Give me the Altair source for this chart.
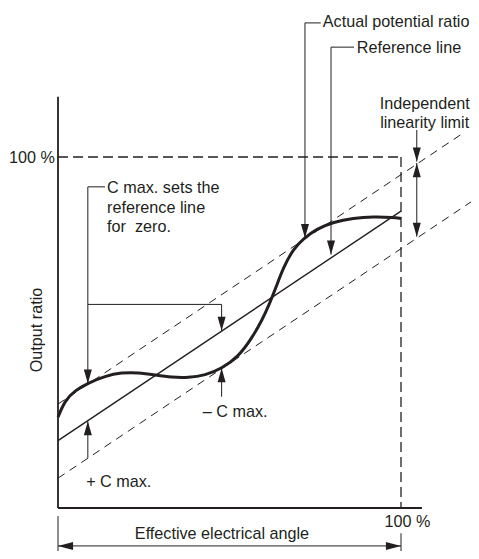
import altair as alt
import pandas as pd

INK = "#231f20"
FONT = "Liberation Sans, Arial, sans-serif"
FS = 16.2

# ---------------- data (percent units) ----------------
# actual potential ratio curve
curve_x = [0, 2.0, 4.96, 8.83, 13.7, 18.6, 23.4, 28.3, 33.1, 38.0, 42.9, 47.7, 52.6,
           56.5, 59.4, 61.8, 63.6, 65.7, 68.6, 71.5, 75.4, 80.3, 86.1, 91.9, 97.8, 100]
curve_y = [25.9, 30.6, 33.5, 35.6, 37.6, 38.6, 38.6, 37.9, 37.2, 37.1, 37.8, 39.7, 43.1,
           48.4, 53.3, 58.5, 63.0, 68.5, 73.8, 76.7, 79.5, 81.5, 82.6, 83.0, 82.8, 82.5]

# reference line
ref_x = [0];   ref_x2 = [100]
ref_y = [19.2]; ref_y2 = [84.6]

# independent linearity limit lines (dashed)
lim_x = [0, 0];       lim_x2 = [117.8, 123.0]
lim_y = [29.6, 8.5];  lim_y2 = [106.6, 88.9]

# 100 % box (dashed)
box_x = [0, 100];   box_x2 = [100, 100]
box_y = [100, 100]; box_y2 = [100, 0]

# axes
axis_x = [0, 0];  axis_x2 = [0, 106.1]
axis_y = [0, 0];  axis_y2 = [117.2, 0]

# leader lines
lead_x  = [72.0, 72.0, 79.6, 79.6, 104.6, 104.6, 8.7, 8.7, 8.7, 47.7, 47.7, 8.7, 0, 100, 0]
lead_x2 = [76.6, 72.0, 86.3, 79.6, 104.6, 104.6, 13.7, 8.7, 47.7, 47.7, 47.7, 8.7, 0, 100, 100]
lead_y  = [138.2, 138.2, 131.3, 131.3, 107.7, 98.3, 91.5, 91.5, 58.0, 58.0, 31.7, 14.2, -2.3, -7.2, -10.8]
lead_y2 = [138.2, 76.9, 131.3, 72.2, 98.7, 77.3, 91.5, 35.5, 58.0, 50.5, 39.8, 24.7, -15, -15, -10.8]

# arrow heads (tip position, direction)
arr_x = [72.0, 79.6, 104.6, 104.6, 104.6, 8.7, 47.7, 47.7, 8.7, 0, 100]
arr_y = [76.9, 72.2, 98.7, 98.2, 77.3, 35.5, 50.5, 39.8, 24.7, -10.8, -10.8]
arr_d = ["down", "down", "down", "up", "down", "down", "down", "up", "up", "left", "right"]

# labels
left_t = ["Actual potential ratio", "Reference line", "C max. sets the", "reference line",
          "for\u00a0 zero.", "– C max.", "+ C max."]
left_x = [77.2, 87.1, 14.3, 14.3, 14.3, 42.2, 8.2]
left_y = [137.1, 129.5, 89.7, 84.0, 78.5, 26.0, 5.9]

center_t = ["Independent", "linearity limit", "Effective electrical angle", "100 %"]
center_x = [106.9, 106.9, 47.8, 101.9]
center_y = [113.6, 108.2, -8.8, -5.3]

right_t = ["100 %"]; right_x = [-0.9]; right_y = [98.4]

rot_t = ["Output ratio"]; rot_x = [-4.75]; rot_y = [50.7]

# ---------------- scales ----------------
W, H = 463, 543
PXX, PXY = 3.43, 3.51
X0, Y0 = 50, 500
xs = alt.Scale(domain=[-X0 / PXX, (W - X0) / PXX], nice=False, zero=False)
ys = alt.Scale(domain=[(Y0 - H) / PXY, Y0 / PXY], nice=False, zero=False)


def seg(x, x2, y, y2, width, dash=None):
    df = pd.DataFrame({"x": x, "x2": x2, "y": y, "y2": y2})
    mk = dict(color=INK, strokeWidth=width)
    if dash:
        mk["strokeDash"] = dash
    return alt.Chart(df).mark_rule(**mk).encode(
        x=alt.X("x:Q", scale=xs, axis=None), x2="x2:Q",
        y=alt.Y("y:Q", scale=ys, axis=None), y2="y2:Q")


def txt(t, x, y, align, angle=0):
    df = pd.DataFrame({"t": t, "x": x, "y": y})
    return alt.Chart(df).mark_text(align=align, baseline="alphabetic", font=FONT,
                                   fontSize=FS, color=INK, angle=angle).encode(
        x=alt.X("x:Q", scale=xs, axis=None),
        y=alt.Y("y:Q", scale=ys, axis=None), text="t:N")


curve = alt.Chart(pd.DataFrame({"x": curve_x, "y": curve_y})).mark_line(
    color=INK, strokeWidth=3, interpolate="basis").encode(
    x=alt.X("x:Q", scale=xs, axis=None), y=alt.Y("y:Q", scale=ys, axis=None))

arrows = alt.Chart(pd.DataFrame({"x": arr_x, "y": arr_y, "d": arr_d})).mark_point(
    filled=True, size=49, opacity=1, color=INK, strokeWidth=0).encode(
    x=alt.X("x:Q", scale=xs, axis=None), y=alt.Y("y:Q", scale=ys, axis=None),
    shape=alt.Shape("d:N", legend=None, scale=alt.Scale(
        domain=["down", "up", "left", "right"],
        range=["M0,0L-1.15,-4L1.15,-4Z", "M0,0L-1.15,4L1.15,4Z",
               "M0,0L4.3,-1.15L4.3,1.15Z", "M0,0L-4.3,-1.15L-4.3,1.15Z"])))

chart = alt.layer(
    seg(box_x, box_x2, box_y, box_y2, 1.3, [10, 5]),
    seg(lim_x, lim_x2, lim_y, lim_y2, 1.0, [8, 6]),
    seg(ref_x, ref_x2, ref_y, ref_y2, 1.4),
    seg(axis_x, axis_x2, axis_y, axis_y2, 1.8),
    seg(lead_x, lead_x2, lead_y, lead_y2, 1.0),
    curve,
    arrows,
    txt(left_t, left_x, left_y, "left"),
    txt(center_t, center_x, center_y, "center"),
    txt(right_t, right_x, right_y, "right"),
    txt(rot_t, rot_x, rot_y, "center", 270),
).properties(
    width=W, height=H, autosize=alt.AutoSizeParams(type="none"), padding=0,
    background="white"
).configure_view(strokeWidth=0)

chart.save("out.html", embed_options={"renderer": "svg", "actions": False})
